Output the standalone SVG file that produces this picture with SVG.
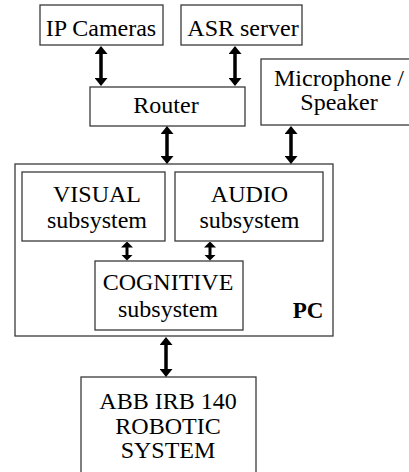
<svg xmlns="http://www.w3.org/2000/svg" width="409" height="472" viewBox="0 0 409 472">
<style>
.box{fill:#fff;stroke:#3a3a3a;stroke-width:1.3}
text{font-family:'Liberation Serif','Times New Roman',Tinos,'DejaVu Serif',serif;font-size:24px;fill:#000;text-anchor:middle}
.b{font-weight:bold;font-size:23px}
.arr{stroke:#000;stroke-width:3.5;fill:none;marker-start:url(#ah);marker-end:url(#ah)}
.arr2{stroke:#000;stroke-width:3;fill:none;marker-start:url(#ah2);marker-end:url(#ah2)}
</style>
<defs>
<marker id="ah" viewBox="0 0 8 13" refX="5" refY="6.5" markerWidth="8" markerHeight="13" markerUnits="userSpaceOnUse" orient="auto-start-reverse"><path d="M0,0 L8,6.5 L0,13 z" fill="#000"/></marker>
<marker id="ah2" viewBox="0 0 6 12" refX="3.5" refY="6" markerWidth="6" markerHeight="12" markerUnits="userSpaceOnUse" orient="auto-start-reverse"><path d="M0,0 L6,6 L0,12 z" fill="#000"/></marker>
</defs>
<rect x="0" y="0" width="409" height="472" fill="#fff"/>
<g id="pc"><rect class="box" x="15" y="164" width="318" height="172"/><text class="b" x="308" y="318">PC</text></g>
<g id="ipcam"><rect class="box" x="40" y="5" width="123" height="40"/><text x="101" y="36">IP Cameras</text></g>
<g id="asr"><rect class="box" x="181" y="5" width="121" height="40"/><text x="243" y="36">ASR server</text></g>
<g id="router"><rect class="box" x="90" y="87" width="155" height="39"/><text x="166" y="113">Router</text></g>
<g id="mic"><rect class="box" x="261" y="59" width="160" height="66"/><text x="339" y="86">Microphone /</text><text x="339" y="110">Speaker</text></g>
<g id="visual"><rect class="box" x="22" y="172" width="143" height="69"/><text x="97" y="202">VISUAL</text><text x="97" y="228">subsystem</text></g>
<g id="audio"><rect class="box" x="175" y="172" width="148" height="69"/><text x="249.5" y="202">AUDIO</text><text x="249.5" y="228">subsystem</text></g>
<g id="cognitive"><rect class="box" x="95" y="261" width="148" height="69"/><text x="168" y="290">COGNITIVE</text><text x="168" y="317">subsystem</text></g>
<g id="abb"><rect class="box" x="81" y="377" width="175" height="100"/><text x="168" y="409">ABB IRB 140</text><text x="168" y="434">ROBOTIC</text><text x="168" y="458">SYSTEM</text></g>
<g id="connectors">
<line class="arr" x1="101" y1="49" x2="101" y2="83"/>
<line class="arr" x1="235" y1="49" x2="235" y2="83"/>
<line class="arr" x1="167" y1="129" x2="167" y2="161"/>
<line class="arr" x1="291" y1="129" x2="291" y2="161"/>
<line class="arr2" x1="127" y1="244" x2="127" y2="258"/>
<line class="arr2" x1="210" y1="244" x2="210" y2="258"/>
<line class="arr" x1="166" y1="340" x2="166" y2="374"/>
</g>
</svg>
